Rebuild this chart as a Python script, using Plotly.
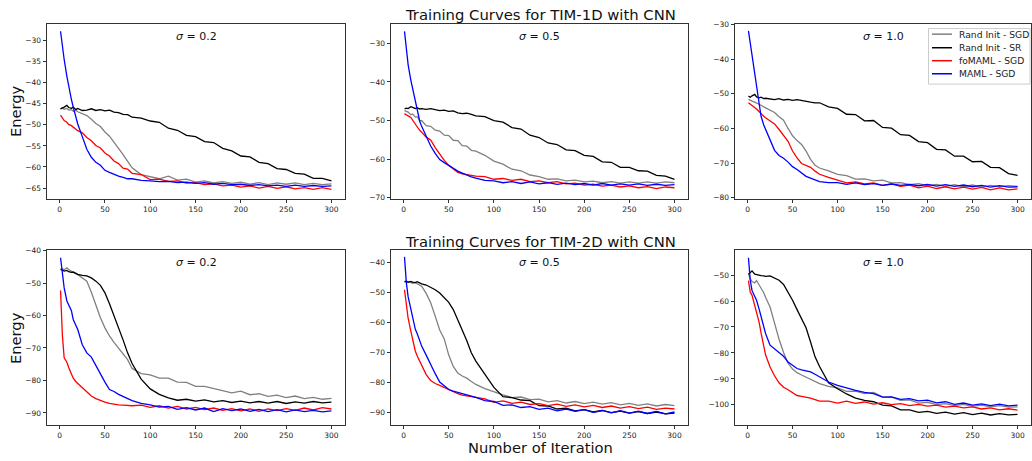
import plotly.graph_objects as go

# ---------------- data ----------------
X_ITER = [1, 3, 5, 8, 10, 13, 15, 18, 20, 25, 30, 35, 40, 45, 50, 55, 60, 65, 70, 75, 80,
          90, 100, 110, 120, 130, 140, 150, 160, 170, 180, 190, 200, 210, 220, 230, 240,
          250, 260, 270, 280, 290, 300]

SERIES_NAMES = ["Rand Init - SGD", "Rand Init - SR", "foMAML - SGD", "MAML - SGD"]
SERIES_COLORS = ["#808080", "#000000", "#ff0000", "#0000ff"]

# TIM-1D, sigma = 0.2
gray_1d_02 = [-46.2, -46.0, -46.3, -46.1, -46.5, -46.4, -46.8, -46.6, -46.9, -47.3, -47.8, -48.7, -49.7, -50.4, -51.7, -52.7, -54.3, -55.6, -57.1, -58.6, -60.2, -61.8, -62.3, -62.8, -62.2, -63.1, -62.9, -63.6, -63.3, -63.8, -63.5, -63.9, -63.6, -64.1, -63.7, -64.2, -63.8, -64.1, -63.8, -64.2, -63.9, -64.2, -64.0]
black_1d_02 = [-46.2, -45.9, -45.8, -45.4, -45.9, -46.1, -45.8, -46.4, -46.1, -46.6, -46.5, -46.2, -46.6, -46.4, -46.7, -46.5, -47.0, -47.1, -47.5, -47.6, -48.2, -48.4, -49.1, -49.4, -50.8, -51.3, -52.5, -52.8, -54.0, -54.2, -55.6, -56.2, -57.4, -57.6, -58.9, -59.2, -60.4, -60.6, -61.5, -61.7, -62.7, -62.7, -63.3]
red_1d_02 = [-47.7, -48.4, -49.0, -49.4, -49.9, -50.2, -50.5, -50.9, -51.4, -51.9, -53.0, -53.8, -54.9, -55.5, -56.7, -57.4, -58.6, -59.2, -60.3, -60.5, -61.5, -61.8, -63.0, -62.9, -63.4, -63.3, -63.8, -63.7, -64.2, -64.0, -64.5, -64.3, -64.8, -64.5, -65.0, -64.6, -65.1, -64.7, -65.2, -64.9, -65.3, -64.9, -65.3]
blue_1d_02 = [-27.8, -31.5, -34.5, -38.5, -41.0, -44.0, -45.8, -48.5, -49.8, -52.8, -55.8, -57.7, -58.9, -59.6, -60.8, -61.3, -61.8, -62.2, -62.5, -62.8, -62.8, -63.2, -63.3, -63.5, -63.4, -63.7, -63.6, -63.9, -63.7, -64.1, -63.9, -64.2, -64.1, -64.4, -64.2, -64.5, -64.3, -64.6, -64.3, -64.6, -64.4, -64.6, -64.5]

# TIM-1D, sigma = 0.5
gray_1d_05 = [-47.4, -47.7, -47.8, -48.5, -48.3, -49.1, -49.0, -50.1, -50.0, -51.3, -51.5, -52.5, -52.7, -53.8, -53.9, -55.1, -55.2, -56.5, -56.6, -57.7, -57.9, -59.0, -60.5, -61.3, -62.6, -63.0, -64.1, -64.5, -65.2, -65.1, -65.6, -65.4, -65.9, -65.7, -66.1, -65.8, -66.2, -65.9, -66.2, -65.9, -66.2, -65.9, -66.1]
black_1d_05 = [-47.0, -46.8, -46.9, -46.4, -46.6, -46.9, -46.7, -47.0, -46.9, -47.1, -46.9, -47.2, -47.4, -47.3, -47.6, -47.5, -48.0, -48.2, -48.1, -48.4, -48.8, -49.0, -50.0, -50.4, -51.8, -52.2, -53.8, -54.4, -55.8, -56.2, -57.6, -57.8, -59.0, -59.3, -60.7, -60.8, -62.1, -62.1, -63.0, -63.1, -64.2, -64.4, -65.2]
red_1d_05 = [-48.2, -48.6, -48.8, -49.2, -49.8, -51.0, -51.6, -52.6, -53.0, -54.3, -55.0, -57.0, -58.8, -60.3, -61.6, -62.6, -63.4, -63.8, -64.0, -64.2, -64.4, -64.5, -65.2, -65.0, -65.5, -65.2, -65.8, -65.6, -66.1, -65.8, -66.4, -66.2, -66.7, -66.5, -67.0, -66.7, -67.2, -66.9, -67.4, -67.1, -67.6, -67.2, -67.4]
blue_1d_05 = [-26.9, -32.0, -35.5, -39.5, -41.8, -45.2, -47.3, -50.3, -51.5, -53.9, -56.6, -58.5, -60.1, -60.9, -61.7, -62.4, -63.1, -63.6, -64.2, -64.6, -64.9, -65.5, -65.6, -66.1, -65.8, -66.3, -65.9, -66.4, -66.1, -66.5, -66.2, -66.6, -66.3, -66.7, -66.3, -66.7, -66.4, -66.7, -66.4, -66.8, -66.5, -66.8, -66.6]

# TIM-1D, sigma = 1.0
gray_1d_10 = [-51.6, -51.9, -52.1, -52.4, -52.6, -53.0, -53.3, -53.8, -54.1, -54.7, -55.4, -56.6, -57.6, -60.0, -62.1, -63.5, -64.6, -66.5, -68.9, -70.6, -71.4, -72.2, -73.2, -73.6, -74.6, -74.5, -75.1, -74.9, -75.7, -75.6, -76.2, -75.9, -76.5, -76.1, -76.7, -76.2, -76.8, -76.3, -76.9, -76.4, -76.8, -76.5, -76.7]
black_1d_10 = [-50.7, -51.0, -50.6, -50.2, -50.9, -51.2, -51.0, -51.4, -51.3, -51.5, -51.7, -51.4, -51.8, -51.6, -51.9, -51.7, -52.0, -52.1, -52.4, -52.6, -52.6, -53.8, -54.2, -55.9, -56.0, -57.8, -57.7, -59.7, -59.9, -61.8, -62.0, -63.8, -64.1, -66.0, -66.2, -68.0, -68.0, -69.6, -69.5, -71.2, -71.3, -73.0, -73.5]
red_1d_10 = [-52.6, -53.0, -53.3, -53.8, -54.4, -55.2, -55.8, -56.5, -56.9, -57.9, -58.7, -60.3, -61.9, -63.7, -66.5, -68.5, -70.1, -70.6, -71.2, -72.3, -73.2, -74.1, -74.8, -75.7, -75.4, -76.0, -75.7, -76.4, -76.0, -76.7, -76.3, -77.1, -76.6, -77.3, -76.8, -77.4, -76.9, -77.5, -77.0, -77.7, -77.1, -77.7, -77.4]
blue_1d_10 = [-31.9, -35.5, -38.5, -44.5, -48.8, -54.0, -56.5, -59.0, -60.3, -63.5, -66.3, -67.8, -68.6, -69.7, -71.0, -71.8, -72.9, -73.8, -74.3, -74.8, -75.3, -75.6, -75.6, -76.1, -75.7, -76.2, -75.9, -76.4, -76.0, -76.4, -76.1, -76.5, -76.1, -76.6, -76.2, -76.7, -76.3, -76.8, -76.4, -76.9, -76.5, -76.9, -76.8]

# TIM-2D, sigma = 0.2
gray_2d_02 = [-45.8, -45.6, -45.9, -45.3, -45.8, -46.4, -46.8, -47.2, -47.4, -48.3, -49.4, -52.8, -56.7, -60.7, -63.8, -66.3, -68.3, -70.0, -71.6, -73.6, -76.3, -77.9, -78.3, -79.3, -79.3, -80.5, -80.6, -81.8, -81.8, -82.5, -83.0, -83.8, -83.3, -84.4, -84.1, -84.9, -84.5, -85.3, -84.8, -85.6, -85.2, -85.8, -85.5]
black_2d_02 = [-45.8, -46.0, -46.3, -46.1, -46.5, -46.7, -46.6, -47.0, -47.3, -47.6, -47.8, -48.4, -49.4, -50.7, -53.0, -56.4, -59.9, -63.9, -67.5, -71.5, -74.8, -79.6, -82.6, -84.3, -85.4, -86.1, -85.8, -86.4, -86.0, -86.6, -86.2, -86.8, -86.4, -86.9, -86.5, -87.0, -86.5, -87.1, -86.6, -87.0, -86.5, -86.9, -86.7]
red_2d_02 = [-52.3, -66.0, -73.0, -74.4, -76.0, -78.0, -79.3, -80.4, -80.9, -82.3, -83.6, -84.8, -85.6, -86.2, -86.7, -87.1, -87.4, -87.5, -87.6, -87.7, -87.8, -87.6, -88.3, -87.8, -88.5, -88.0, -88.8, -88.3, -89.0, -88.5, -89.2, -88.7, -89.4, -88.8, -89.5, -88.8, -89.3, -88.7, -89.2, -88.5, -89.1, -88.4, -88.8]
blue_2d_02 = [-42.2, -47.0, -51.5, -55.5, -56.9, -58.5, -61.2, -63.0, -64.3, -69.0, -71.5, -72.8, -75.5, -78.0, -80.5, -82.8, -83.4, -84.3, -85.0, -85.6, -86.2, -87.1, -87.5, -88.2, -88.0, -88.9, -88.4, -89.1, -88.5, -89.6, -88.7, -89.3, -88.8, -89.5, -88.9, -89.6, -89.0, -89.7, -89.1, -89.6, -89.2, -89.7, -89.4]

# TIM-2D, sigma = 0.5
gray_2d_05 = [-46.3, -46.5, -46.2, -46.6, -46.8, -46.6, -46.9, -47.3, -47.8, -50.2, -53.3, -57.8, -62.4, -65.4, -70.8, -74.6, -76.8, -77.8, -78.5, -79.6, -80.6, -82.0, -83.1, -84.1, -85.0, -84.8, -85.7, -85.5, -86.4, -86.0, -86.8, -86.3, -87.0, -86.5, -87.2, -86.7, -87.4, -86.9, -87.6, -87.1, -87.8, -87.3, -87.7]
black_2d_05 = [-46.3, -46.1, -46.5, -46.2, -46.4, -46.6, -46.3, -46.8, -47.0, -47.4, -48.2, -49.0, -50.1, -51.6, -53.2, -55.6, -58.8, -62.5, -66.0, -70.0, -72.8, -77.2, -81.6, -84.7, -85.0, -85.8, -86.0, -87.7, -87.8, -88.8, -88.5, -89.4, -89.0, -89.8, -89.3, -90.0, -89.5, -90.2, -89.7, -90.3, -89.8, -90.4, -90.2]
red_2d_05 = [-49.0, -54.5, -58.5, -62.8, -65.8, -69.5, -71.0, -73.0, -74.3, -77.3, -79.3, -80.3, -80.9, -81.6, -82.5, -83.2, -83.7, -84.2, -84.4, -84.6, -84.8, -85.4, -86.6, -86.1, -86.9, -86.5, -87.3, -87.0, -87.7, -87.2, -87.9, -87.4, -88.1, -87.6, -88.3, -87.8, -88.5, -88.0, -88.7, -88.2, -88.9, -88.5, -88.8]
blue_2d_05 = [-38.0, -46.5, -51.3, -55.5, -58.0, -62.2, -63.6, -66.4, -67.8, -70.8, -74.0, -77.0, -79.8, -81.2, -82.3, -82.8, -83.2, -83.7, -84.1, -84.5, -84.9, -86.0, -86.3, -87.6, -87.4, -88.3, -88.0, -88.9, -88.5, -89.4, -88.8, -89.6, -89.0, -89.9, -89.3, -90.1, -89.4, -90.2, -89.5, -90.3, -89.6, -90.4, -89.8]

# TIM-2D, sigma = 1.0
gray_2d_10 = [-49.6, -51.5, -52.5, -53.0, -52.1, -53.8, -54.8, -56.8, -58.5, -62.3, -68.5, -74.7, -79.8, -83.9, -86.2, -87.6, -88.5, -89.3, -89.9, -90.8, -91.8, -92.9, -93.5, -94.8, -94.7, -95.7, -95.2, -96.9, -97.0, -98.3, -98.1, -99.3, -99.0, -99.9, -99.5, -100.3, -99.8, -100.6, -100.1, -100.8, -100.3, -100.9, -100.8]
black_2d_10 = [-49.6, -49.0, -48.4, -49.6, -49.8, -50.3, -50.2, -50.3, -50.5, -50.3, -51.0, -52.0, -53.6, -56.4, -59.7, -63.3, -66.7, -70.3, -75.8, -81.5, -85.2, -91.5, -93.8, -95.8, -97.4, -98.3, -98.8, -100.1, -100.4, -101.9, -101.9, -102.9, -102.5, -103.3, -102.8, -103.6, -103.0, -103.8, -103.2, -103.9, -103.4, -103.9, -103.7]
red_2d_10 = [-52.1, -56.5, -57.8, -61.5, -64.8, -68.4, -72.3, -78.0, -80.7, -85.4, -88.8, -91.5, -93.2, -94.2, -95.4, -96.4, -96.7, -97.0, -97.4, -98.0, -98.6, -98.6, -99.3, -98.6, -99.4, -98.9, -99.7, -99.2, -99.9, -99.5, -100.3, -99.8, -100.5, -100.1, -100.9, -100.5, -101.2, -100.8, -101.6, -101.2, -101.9, -101.5, -102.0]
blue_2d_10 = [-43.3, -52.0, -56.0, -58.5, -59.7, -63.3, -66.0, -70.5, -72.5, -77.0, -78.4, -79.8, -81.3, -83.5, -84.8, -86.0, -86.5, -87.0, -87.3, -88.2, -89.2, -91.2, -92.5, -93.6, -94.4, -95.2, -95.7, -97.0, -96.9, -97.9, -97.6, -98.5, -98.2, -99.2, -98.8, -99.8, -99.3, -100.1, -99.6, -100.3, -99.7, -100.4, -100.1]

SIGMA_LABELS = ["0.2", "0.5", "1.0", "0.2", "0.5", "1.0"]
Y_RANGES = [(-67.5, -26.0), (-70.2, -24.9), (-80.2, -29.8),
            (-93.6, -39.7), (-94.0, -35.6), (-107.6, -40.2)]
Y_TICKS = [[-30, -35, -40, -45, -50, -55, -60, -65],
           [-30, -40, -50, -60, -70],
           [-30, -40, -50, -60, -70, -80],
           [-40, -50, -60, -70, -80, -90],
           [-40, -50, -60, -70, -80, -90],
           [-50, -60, -70, -80, -90, -100]]
X_TICKS = [0, 50, 100, 150, 200, 250, 300]

PANELS = [
    [gray_1d_02, black_1d_02, red_1d_02, blue_1d_02],
    [gray_1d_05, black_1d_05, red_1d_05, blue_1d_05],
    [gray_1d_10, black_1d_10, red_1d_10, blue_1d_10],
    [gray_2d_02, black_2d_02, red_2d_02, blue_2d_02],
    [gray_2d_05, black_2d_05, red_2d_05, blue_2d_05],
    [gray_2d_10, black_2d_10, red_2d_10, blue_2d_10],
]
for _p in PANELS:
    for _s in _p:
        assert len(_s) == len(X_ITER)

# ---------------- layout geometry ----------------
W, H = 1032, 461
COL_PX = [(47, 345), (391, 688), (735, 1031)]
ROW_PX = [(20, 198), (250, 428)]

def xd(px):
    return px / W

def yd(py):
    return 1 - py / H

fig = go.Figure()
layout = dict(
    width=W, height=H,
    margin=dict(l=0, r=0, t=0, b=0),
    paper_bgcolor="white", plot_bgcolor="white",
    font=dict(family="DejaVu Sans", color="#222222"),
    showlegend=False,
)

annotations = []
shapes = []
for i, series in enumerate(PANELS):
    r, c = divmod(i, 3)
    ax = "" if i == 0 else str(i + 1)
    for k, ys in enumerate(series):
        fig.add_trace(go.Scatter(
            x=X_ITER, y=ys, mode="lines",
            line=dict(color=SERIES_COLORS[k], width=1.3),
            name=SERIES_NAMES[k],
            xaxis="x" + ax, yaxis="y" + ax,
        ))
    x0, x1 = COL_PX[c]
    y0, y1 = ROW_PX[r]
    common = dict(showgrid=False, zeroline=False, showline=True, mirror=True,
                  linecolor="#333333", linewidth=1, ticks="outside", ticklen=3.5,
                  tickcolor="#333333", tickfont=dict(size=7.5, color="#222222"))
    layout["xaxis" + ax] = dict(domain=[xd(x0), xd(x1)], range=[-13.95, 314.95],
                                tickvals=X_TICKS, anchor="y" + ax, **common)
    layout["yaxis" + ax] = dict(domain=[yd(y1), yd(y0)], range=list(Y_RANGES[i]),
                                tickvals=Y_TICKS[i], anchor="x" + ax, **common)
    annotations.append(dict(
        text="<i>σ</i> = " + SIGMA_LABELS[i], xref="paper", yref="paper",
        x=xd((x0 + x1) / 2), y=yd(y0 + 13), xanchor="center", yanchor="middle",
        showarrow=False, font=dict(size=11, color="#111111")))

# legend box (top-right panel), drawn as layout shapes + text
LEG_BOX = (928.5, 25, 1030, 81.5)
LEG_ROWS = [30.7, 44.5, 57.7, 71.0]
shapes.append(dict(type="rect", xref="paper", yref="paper",
                   x0=xd(LEG_BOX[0]), x1=xd(LEG_BOX[2]),
                   y0=yd(LEG_BOX[3]), y1=yd(LEG_BOX[1]),
                   line=dict(color="#cccccc", width=1),
                   fillcolor="rgba(255,255,255,0.85)", layer="above"))
for k, name in enumerate(SERIES_NAMES):
    yy = yd(LEG_ROWS[k])
    shapes.append(dict(type="line", xref="paper", yref="paper",
                       x0=xd(932), x1=xd(952), y0=yy, y1=yy,
                       line=dict(color=SERIES_COLORS[k], width=1.5), layer="above"))
    annotations.append(dict(text=name, xref="paper", yref="paper",
                            x=xd(957), y=yy, xanchor="left", yanchor="middle",
                            showarrow=False,
                            font=dict(size=9.2, color="#222222")))

annotations += [
    dict(text="Training Curves for TIM-1D with CNN", xref="paper", yref="paper",
         x=xd(540), y=yd(11), xanchor="center", yanchor="middle", showarrow=False,
         font=dict(size=14.8, color="#111111")),
    dict(text="Training Curves for TIM-2D with CNN", xref="paper", yref="paper",
         x=xd(540), y=yd(242), xanchor="center", yanchor="middle", showarrow=False,
         font=dict(size=14.8, color="#111111")),
    dict(text="Number of Iteration", xref="paper", yref="paper",
         x=xd(540), y=yd(451), xanchor="center", yanchor="middle", showarrow=False,
         font=dict(size=14.7, color="#111111")),
    dict(text="Energy", xref="paper", yref="paper", textangle=-90,
         x=xd(15), y=yd(109), xanchor="center", yanchor="middle", showarrow=False,
         font=dict(size=14.7, color="#111111")),
    dict(text="Energy", xref="paper", yref="paper", textangle=-90,
         x=xd(15), y=yd(340), xanchor="center", yanchor="middle", showarrow=False,
         font=dict(size=14.7, color="#111111")),
]
layout["annotations"] = annotations
layout["shapes"] = shapes
fig.update_layout(**layout)
fig.write_html(
    "out.html",
    config={"displayModeBar": False},
    post_script="document.body.style.margin='0px';document.body.style.padding='0px';"
                "document.body.style.overflow='hidden';",
)
